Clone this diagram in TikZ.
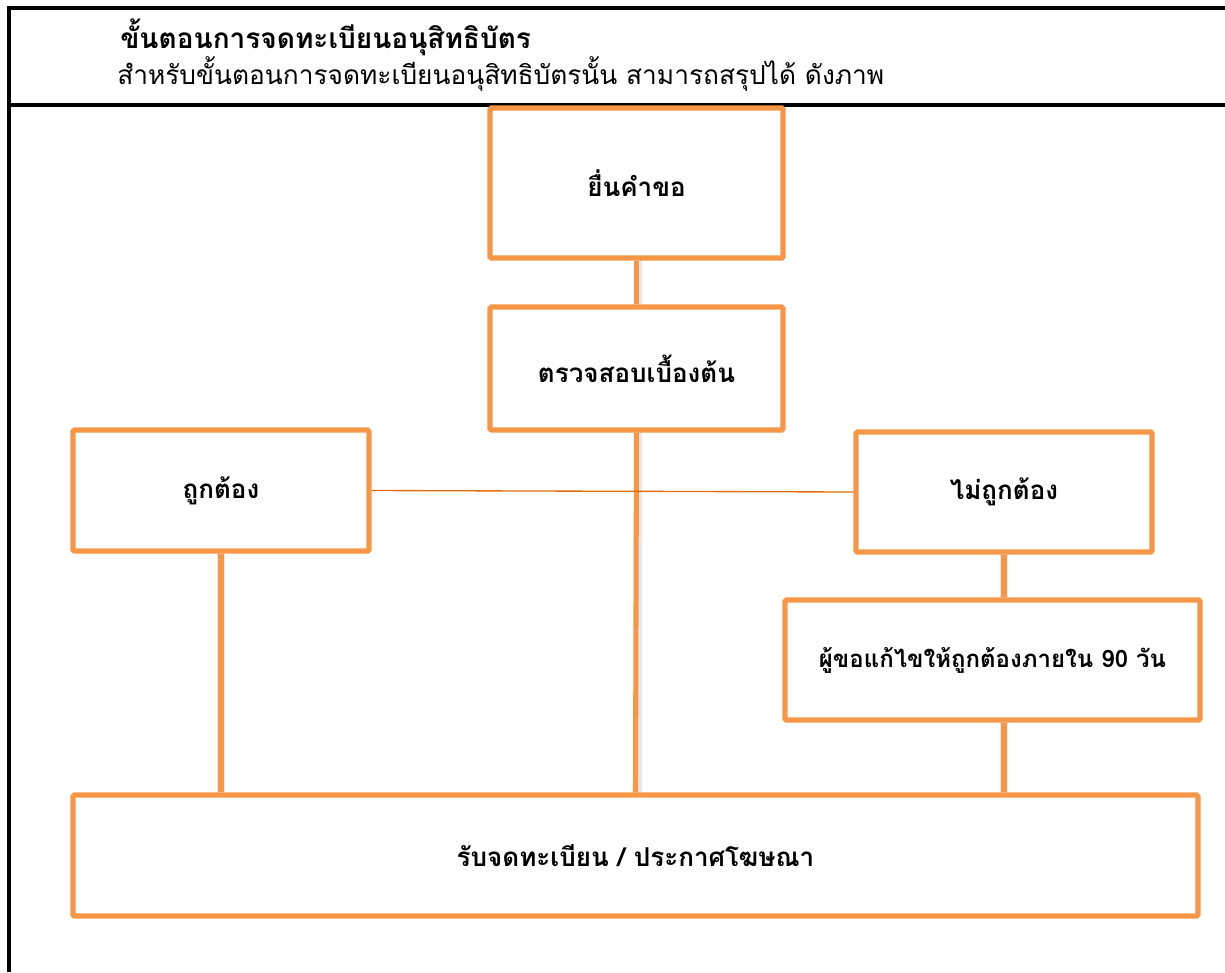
\documentclass[tikz,border=0pt]{standalone}
\usepackage{fontspec}
\setmainfont[Script=Thai]{Loma}
\newfontfamily\thaifont[Script=Thai]{Loma}
\definecolor{boxorange}{HTML}{F79646}
\definecolor{lineorange}{HTML}{E46C0A}
\begin{document}
\begin{tikzpicture}[x=0.75pt,y=-0.75pt,
  box/.style={draw=boxorange,line width=3.8pt,rounded corners=1pt,fill=white,font=\thaifont\bfseries\fontsize{19.5}{22}\selectfont,inner sep=0pt},
  conn/.style={draw=boxorange,line width=3.8pt},
  shade/.style={draw=black!20,line width=6pt,opacity=0.45}]
\useasboundingbox (0,0) rectangle (1225,972);
% table frame
\draw[line width=3pt] (9,972) -- (9,8) -- (1225,8);
\draw[line width=3pt] (9,105) -- (1225,105);
\node[anchor=base west,font=\thaifont\bfseries\fontsize{21}{24}\selectfont,inner sep=0] (title) at (120,48) {ขั้นตอนการจดทะเบียนอนุสิทธิบัตร};
\node[anchor=base west,font=\thaifont\fontsize{19.7}{22}\selectfont,inner sep=0] (sub) at (117,84) {สำหรับขั้นตอนการจดทะเบียนอนุสิทธิบัตรนั้น สามารถสรุปได้ ดังภาพ};
% connector shadows
\draw[shade] (638,258) -- (638,309);
\draw[shade] (638,430) -- (638,798);
\draw[shade] (221,551) -- (221,798);
\draw[shade] (1004,552) -- (1004,602);
\draw[shade] (1004,720) -- (1004,798);
% boxes
\node[box,minimum width={293*0.75pt},minimum height={150*0.75pt}] (b1) at (636.5,183) {ยื่นคำขอ};
\node[box,minimum width={293*0.75pt},minimum height={123*0.75pt}] (b2) at (636.5,368.5) {ตรวจสอบเบื้องต้น};
\node[box,minimum width={296*0.75pt},minimum height={121*0.75pt}] (b3) at (221,490.5) {ถูกต้อง};
\node[box,minimum width={296*0.75pt},minimum height={120*0.75pt}] (b4) at (1004,492) {ไม่ถูกต้อง};
\node[box,minimum width={415*0.75pt},minimum height={120*0.75pt},font=\thaifont\bfseries\fontsize{18}{21}\selectfont] (b5) at (992.5,660) {ผู้ขอแก้ไขให้ถูกต้องภายใน 90 วัน};
\node[box,minimum width={1125*0.75pt},minimum height={121*0.75pt}] (b6) at (635.5,855.5) {รับจดทะเบียน / ประกาศโฆษณา};
\draw[conn] (b1.south) -- (b2.north);
\draw[conn] (b2.south) -- (b6.north);
\draw[conn] (b3.south) -- (b3.south |- b6.north);
\draw[conn] (b4.south) -- (b5.north -| b4.south);
\draw[conn] (b5.south -| b4.south) -- (b6.north -| b4.south);
\draw[lineorange,line width=1pt] (b3.east) -- (b4.west);
\end{tikzpicture}
\end{document}
